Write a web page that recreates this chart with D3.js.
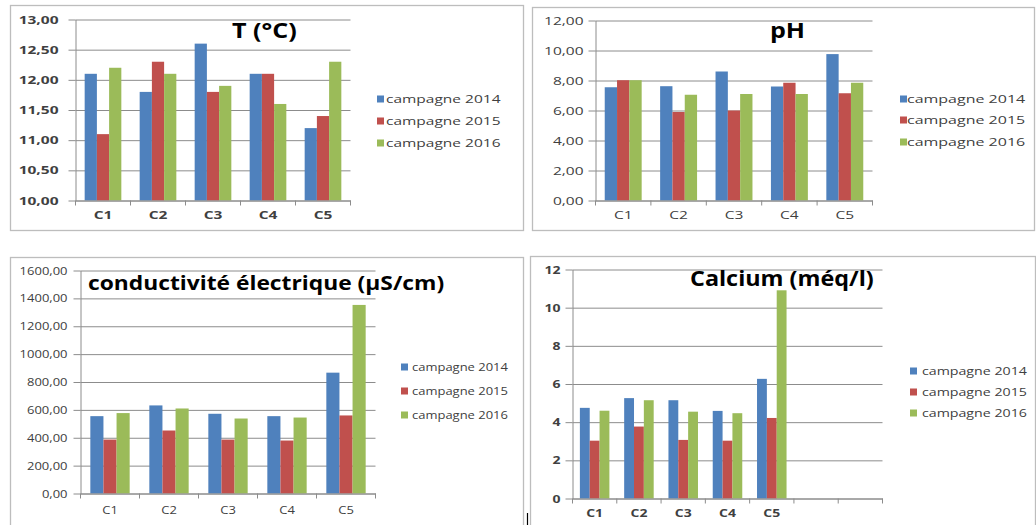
<!DOCTYPE html>
<html>
<head>
<meta charset="utf-8">
<script src="https://cdn.jsdelivr.net/npm/d3@7"></script>
<style>
  html, body { margin: 0; padding: 0; background: #fff; }
  svg { display: block; }
  text { font-family: "Open Sans", "Noto Sans", sans-serif; }
</style>
</head>
<body>
<svg id="chart" width="1036" height="525"></svg>
<script>
// ---- data ----
const stations = ["C1", "C2", "C3", "C4", "C5"];
const campaigns = ["campagne 2014", "campagne 2015", "campagne 2016"];
const colors = ["#4F81BD", "#C0504D", "#9BBB59"];

// Température (°C)
const temp2014 = [12.10, 11.80, 12.60, 12.10, 11.20];
const temp2015 = [11.10, 12.30, 11.80, 12.10, 11.40];
const temp2016 = [12.20, 12.10, 11.90, 11.60, 12.30];
const tempTicks = [10, 10.5, 11, 11.5, 12, 12.5, 13];

// pH
const ph2014 = [7.55, 7.62, 8.60, 7.60, 9.76];
const ph2015 = [8.02, 5.90, 6.00, 7.85, 7.15];
const ph2016 = [8.02, 7.05, 7.10, 7.10, 7.85];
const phTicks = [0, 2, 4, 6, 8, 10, 12];

// Conductivité électrique (µS/cm)
const cond2014 = [555, 632, 572, 555, 867];
const cond2015 = [387, 452, 387, 380, 560];
const cond2016 = [577, 610, 538, 545, 1353];
const condTicks = [0, 200, 400, 600, 800, 1000, 1200, 1400, 1600];

// Calcium (méq/l)
const ca2014 = [4.75, 5.26, 5.15, 4.59, 6.27];
const ca2015 = [3.03, 3.77, 3.07, 3.03, 4.22];
const ca2016 = [4.60, 5.15, 4.55, 4.47, 10.91];
const caTicks = [0, 2, 4, 6, 8, 10, 12];

// ---- formats ----
const frLocale = d3.formatLocale({ decimal: ",", thousands: " ", grouping: [3], currency: ["", " €"] });
const fmt2 = frLocale.format(".2f");
const fmt0 = frLocale.format("d");

// ---- panel layout ----
const panels = [
  {
    title: "T (°C)", series: [temp2014, temp2015, temp2016], ticks: tempTicks, fmt: fmt2,
    frame: [10, 5, 523, 230], x0: 75.5, x1: 350.5, yTop: 19.5, yBot: 200.5, slots: 5,
    titleX: 232, titleY: 38, titleSize: 22, titleSx: 1.14,
    fontSize: 10, sx: 1.55, weight: "bold", yGap: 17, xGap: 11.5,
    legX: 377, legTx: 386, legY: [99, 121, 143], legSx: 1.55
  },
  {
    title: "pH", series: [ph2014, ph2015, ph2016], ticks: phTicks, fmt: fmt2,
    frame: [532, 7, 1034, 230], x0: 595.5, x1: 872.5, yTop: 20.5, yBot: 200.5, slots: 5,
    titleX: 770, titleY: 38, titleSize: 22, titleSx: 1.14,
    fontSize: 10, sx: 1.55, weight: "normal", yGap: 12, xGap: 11.5,
    legX: 900, legTx: 907, legY: [99, 120, 142], legSx: 1.6
  },
  {
    title: "conductivité électrique (µS/cm)", series: [cond2014, cond2015, cond2016], ticks: condTicks, fmt: fmt2,
    frame: [10, 257, 523, 535], x0: 80.5, x1: 375.5, yTop: 270.5, yBot: 493.5, slots: 5,
    titleX: 88, titleY: 290, titleSize: 20, titleSx: 1.14,
    fontSize: 10, sx: 1.3, weight: "normal", yGap: 13, xGap: 13.5,
    legX: 401, legTx: 412, legY: [367, 391, 415], legSx: 1.3
  },
  {
    title: "Calcium (méq/l)", series: [ca2014, ca2015, ca2016], ticks: caTicks, fmt: fmt0,
    frame: [530, 256, 1035, 535], x0: 572.5, x1: 882.5, yTop: 269.5, yBot: 498.5, slots: 7,
    titleX: 690, titleY: 286, titleSize: 20.5, titleSx: 1.14,
    fontSize: 10, sx: 1.4, weight: "bold", yGap: 12, xGap: 11,
    legX: 910, legTx: 922, legY: [371, 392, 413], legSx: 1.42
  }
];

const gridColor = "#8c8c8c";
const labelColor = "#404040";
const svg = d3.select("#chart");

panels.forEach(p => {
  const g = svg.append("g");
  const [fx0, fy0, fx1, fy1] = p.frame;

  // chart frame
  g.append("rect")
    .attr("x", fx0 + 0.5).attr("y", fy0 + 0.5)
    .attr("width", fx1 - fx0).attr("height", fy1 - fy0)
    .attr("fill", "#fff").attr("stroke", "#bdbdbd").attr("stroke-width", 1.3);

  // scales
  const x0 = d3.scaleBand().domain(d3.range(p.slots)).range([p.x0, p.x1]);
  const x1 = d3.scaleBand().domain(d3.range(campaigns.length))
    .range([0, x0.bandwidth()]).paddingInner(0).paddingOuter(0.75);
  const y = d3.scaleLinear().domain(d3.extent(p.ticks)).range([p.yBot, p.yTop]);
  const base = y.domain()[0];

  // horizontal gridlines
  const grid = g.append("g")
    .attr("transform", `translate(${p.x0},0)`)
    .call(d3.axisLeft(y).tickValues(p.ticks).tickSize(-(p.x1 - p.x0)).tickFormat(""));
  grid.select(".domain").remove();
  grid.selectAll("line").attr("stroke", gridColor).attr("stroke-width", 1);

  // bars
  p.series.forEach((vals, s) => {
    g.append("g").selectAll("rect").data(vals).join("rect")
      .attr("x", (d, i) => x0(i) + x1(s))
      .attr("width", x1.bandwidth())
      .attr("y", d => y(d))
      .attr("height", d => y(base) - y(d))
      .attr("fill", colors[s]);
  });

  // y axis
  const ya = g.append("g")
    .attr("transform", `translate(${p.x0},0)`)
    .call(d3.axisLeft(y).tickValues(p.ticks).tickSize(7).tickSizeOuter(0).tickFormat(p.fmt));
  ya.select(".domain").attr("stroke", gridColor);
  ya.selectAll(".tick line").attr("stroke", gridColor);
  ya.selectAll("text")
    .attr("x", null)
    .attr("dy", "0.35em")
    .attr("transform", `translate(${-p.yGap},0) scale(${p.sx},1)`)
    .attr("fill", labelColor)
    .style("font-size", p.fontSize + "px")
    .style("font-weight", p.weight)
    .style("font-family", '"Open Sans", sans-serif');

  // x axis
  const xa = g.append("g")
    .attr("transform", `translate(0,${p.yBot})`)
    .call(d3.axisBottom(x0).tickSize(0).tickSizeOuter(0).tickFormat(i => stations[i] ?? ""));
  xa.select(".domain").attr("stroke", gridColor);
  xa.selectAll("text")
    .attr("y", null)
    .attr("dy", "0.71em")
    .attr("transform", `translate(0,${p.xGap}) scale(${p.sx},1)`)
    .attr("fill", labelColor)
    .style("font-size", p.fontSize + "px")
    .style("font-weight", p.weight)
    .style("font-family", '"Open Sans", sans-serif');

  // category boundary tick marks
  const bounds = x0.domain().map(i => x0(i)).concat([x0.range()[1]]);
  g.append("g").selectAll("line").data(bounds).join("line")
    .attr("x1", d => d).attr("x2", d => d)
    .attr("y1", p.yBot).attr("y2", p.yBot + 5)
    .attr("stroke", gridColor);

  // title
  g.append("text")
    .attr("transform", `translate(${p.titleX},${p.titleY}) scale(${p.titleSx},1)`)
    .attr("fill", "#000")
    .style("font-size", p.titleSize + "px")
    .style("font-weight", "bold")
    .text(p.title);

  // legend
  const leg = g.append("g").selectAll("g").data(campaigns).join("g")
    .attr("transform", (d, i) => `translate(0,${p.legY[i]})`);
  leg.append("rect")
    .attr("x", p.legX).attr("y", -3.5)
    .attr("width", 7).attr("height", 7)
    .attr("fill", (d, i) => colors[i]);
  leg.append("text")
    .attr("transform", `translate(${p.legTx},0) scale(${p.legSx},1)`)
    .attr("dy", "0.35em")
    .attr("fill", labelColor)
    .style("font-size", p.fontSize + "px")
    .text(d => d);
});

// small vertical caret mark below the two lower charts
svg.append("line")
  .attr("x1", 527.5).attr("x2", 527.5)
  .attr("y1", 513).attr("y2", 525)
  .attr("stroke", "#000").attr("stroke-width", 1.2);
</script>
</body>
</html>
